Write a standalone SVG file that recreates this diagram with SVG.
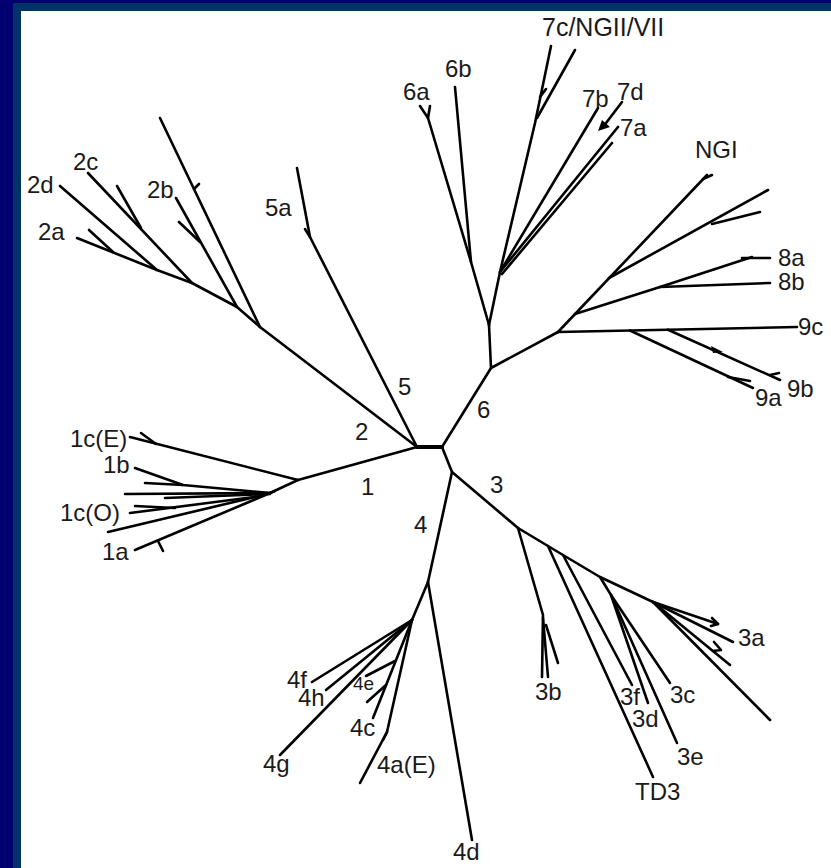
<svg xmlns="http://www.w3.org/2000/svg" width="831" height="868" viewBox="0 0 831 868">
<style>
.l{stroke:#000;stroke-width:2.6;fill:none;stroke-linecap:round;stroke-linejoin:round}
.t{font-family:"Liberation Sans",Arial,sans-serif;font-size:24px;fill:#1a1a1a}
.s{font-size:19px}
</style>
<rect width="831" height="868" fill="#000070"/>
<rect x="13" y="3" width="818" height="865" fill="#003366"/>
<rect x="21" y="11" width="810" height="857" fill="#ffffff"/>
<g id="connectors" class="l">
<path d="M417,447 L442,447" stroke-width="4"/>
<path d="M442,447 L491,368 L489,325"/>
<path d="M491,368 L558,332"/>
<path d="M442,447 L452,472 L428,582"/>
<path d="M452,472 L518,528"/>
<path d="M417,447 L298,480"/>
<path d="M417,447 L260,327"/>
<path d="M417,447 L310,237 L297,168"/>
<path d="M310,237 L305,229"/>
<path d="M298,480 L130,437"/>
<path d="M141,433 L156,444"/>
<path d="M298,480 L270,493"/>
<path d="M270,493 L183,485 L135,468"/>
<path d="M183,485 L145,483"/>
<path d="M270,493 L125,494"/>
<path d="M270,494 L165,498"/>
<path d="M262,496 L130,513"/>
<path d="M175,508 L135,506"/>
<path d="M255,497 L108,532"/>
<path d="M275,491 L135,550"/>
<path d="M158,541 L163,551"/>
<path d="M260,327 L160,118"/>
<path d="M194,189 L199,184"/>
<path d="M260,327 L237,307 L192,283 L157,270 L77,238"/>
<path d="M157,270 L60,186"/>
<path d="M192,283 L88,173"/>
<path d="M141,228 L117,186"/>
<path d="M113,252 L89,230"/>
<path d="M237,307 L176,198"/>
<path d="M200,242 L179,222"/>
<path d="M428,582 L472,840"/>
<path d="M428,582 L412,620"/>
<path d="M412,620 L312,682"/>
<path d="M412,620 L326,690"/>
<path d="M412,620 L280,755"/>
<path d="M412,620 L373,718"/>
<path d="M412,620 L387,732 L360,783"/>
<path d="M387,732 L383,740"/>
<path d="M386,685 L367,702"/>
<path d="M395,661 L366,676"/>
<path d="M518,528 L563,555 L600,577 L653,602 L718,624"/>
<path d="M712,618 L718,624 L711,626"/>
<path d="M518,528 L543,615 L542,677"/>
<path d="M543,618 L548,677"/>
<path d="M546,625 L558,663"/>
<path d="M548,546 L653,777"/>
<path d="M563,555 L632,685"/>
<path d="M600,577 L611,595 L648,703"/>
<path d="M611,595 L677,743"/>
<path d="M611,595 L670,683"/>
<path d="M653,602 L733,642"/>
<path d="M653,602 L730,665"/>
<path d="M714,642 L721,650 L713,651"/>
<path d="M653,602 L770,720"/>
<path d="M489,325 L471,262 L428,118 L420,106"/>
<path d="M428,118 L430,106"/>
<path d="M471,262 L455,87"/>
<path d="M489,325 L500,272 L535,123 L551,46"/>
<path d="M537,118 L575,50"/>
<path d="M540,97 L546,89"/>
<path d="M500,272 L598,108"/>
<path d="M500,272 L618,127"/>
<path d="M502,274 L612,143"/>
<path d="M622,102 L603,127"/>
<path d="M558,332 L707,175"/>
<path d="M703,179 L712,175"/>
<path d="M609,278 L768,190"/>
<path d="M712,224 L760,212"/>
<path d="M575,314 L660,287 L770,283"/>
<path d="M660,287 L752,257"/>
<path d="M742,258 L770,258"/>
<path d="M558,332 L797,327"/>
<path d="M630,330.5 L753,388"/>
<path d="M728,377 L750,381"/>
<path d="M668,329.7 L780,380"/>
<path d="M770,375 L779,373"/>
</g>
<polygon points="598,131 602,120 610,127" fill="#000"/>
<polygon points="711,346 723,352 713,353" fill="#000"/>
<g id="n-7c" class="t"><text x="542" y="36" style="font-size:25px">7c/NGII/VII</text></g>
<g id="n-6a" class="t"><text x="403" y="100">6a</text></g>
<g id="n-6b" class="t"><text x="445" y="77">6b</text></g>
<g id="n-7b" class="t"><text x="582" y="107">7b</text></g>
<g id="n-7d" class="t"><text x="617" y="100">7d</text></g>
<g id="n-7a" class="t"><text x="620" y="136">7a</text></g>
<g id="n-NGI" class="t"><text x="695" y="158">NGI</text></g>
<g id="n-8a" class="t"><text x="778" y="266">8a</text></g>
<g id="n-8b" class="t"><text x="778" y="290">8b</text></g>
<g id="n-9c" class="t"><text x="798" y="335">9c</text></g>
<g id="n-9b" class="t"><text x="787" y="397">9b</text></g>
<g id="n-9a" class="t"><text x="755" y="406">9a</text></g>
<g id="n-2c" class="t"><text x="73" y="170">2c</text></g>
<g id="n-2d" class="t"><text x="27" y="193">2d</text></g>
<g id="n-2b" class="t"><text x="147" y="198">2b</text></g>
<g id="n-2a" class="t"><text x="38" y="240">2a</text></g>
<g id="n-5a" class="t"><text x="265" y="216">5a</text></g>
<g id="n-1cE" class="t"><text x="70" y="447">1c(E)</text></g>
<g id="n-1b" class="t"><text x="103" y="473">1b</text></g>
<g id="n-1cO" class="t"><text x="60" y="521">1c(O)</text></g>
<g id="n-1a" class="t"><text x="102" y="560">1a</text></g>
<g id="n-4f" class="t"><text x="287" y="688">4f</text></g>
<g id="n-4h" class="t"><text x="298" y="706">4h</text></g>
<g id="n-4e" class="t"><text x="353" y="690" class="s">4e</text></g>
<g id="n-4c" class="t"><text x="350" y="736">4c</text></g>
<g id="n-4g" class="t"><text x="263" y="772">4g</text></g>
<g id="n-4aE" class="t"><text x="377" y="773">4a(E)</text></g>
<g id="n-4d" class="t"><text x="453" y="860">4d</text></g>
<g id="n-3b" class="t"><text x="535" y="700">3b</text></g>
<g id="n-3f" class="t"><text x="620" y="705">3f</text></g>
<g id="n-3c" class="t"><text x="670" y="703">3c</text></g>
<g id="n-3d" class="t"><text x="632" y="727">3d</text></g>
<g id="n-3e" class="t"><text x="677" y="765">3e</text></g>
<g id="n-TD3" class="t"><text x="635" y="800">TD3</text></g>
<g id="n-3a" class="t"><text x="738" y="646">3a</text></g>
<g id="g-5" class="t"><text x="398" y="395">5</text></g>
<g id="g-2" class="t"><text x="355" y="440">2</text></g>
<g id="g-1" class="t"><text x="361" y="495">1</text></g>
<g id="g-6" class="t"><text x="477" y="418">6</text></g>
<g id="g-3" class="t"><text x="490" y="493">3</text></g>
<g id="g-4" class="t"><text x="414" y="533">4</text></g>
</svg>
